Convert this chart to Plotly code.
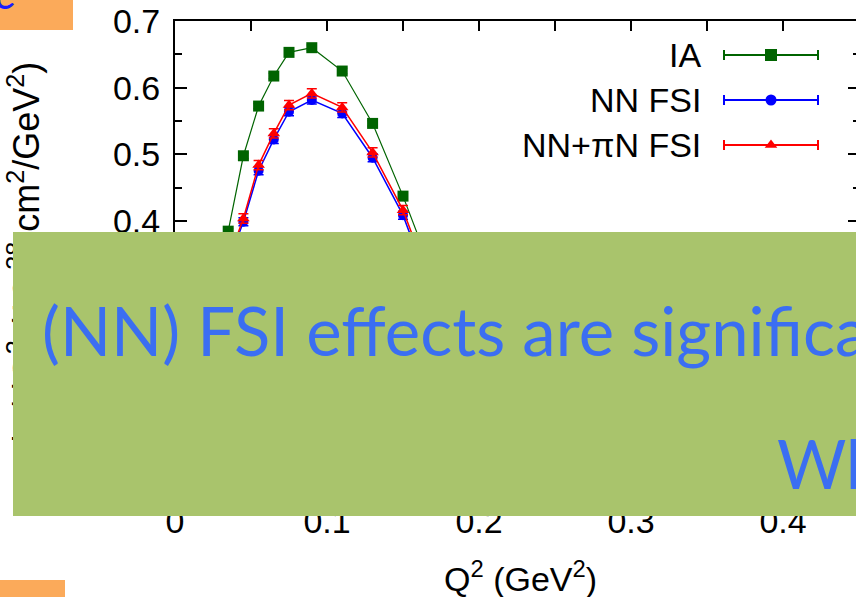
import plotly.graph_objects as go

# ---------------- data ----------------
q2 = [0.025, 0.035, 0.045, 0.055, 0.065, 0.075, 0.09, 0.11, 0.13, 0.15, 0.17, 0.19, 0.21, 0.25, 0.30]
ia = [0.200, 0.385, 0.498, 0.5725, 0.6175, 0.653, 0.660, 0.625, 0.5465, 0.4375, 0.318, 0.210, 0.130, 0.050, 0.010]
nn_fsi = [0.170, 0.338, 0.399, 0.4755, 0.5225, 0.564, 0.5815, 0.5615, 0.495, 0.409, 0.286, 0.190, 0.120, 0.045, 0.010]
nn_pin_fsi = [0.175, 0.342, 0.404, 0.484, 0.5315, 0.574, 0.5915, 0.5705, 0.503, 0.4165, 0.296, 0.200, 0.125, 0.048, 0.010]
ia_err = [0.004] * 15
nn_err = [0.006] * 15
pin_err = [0.007] * 15

series_names = ["IA", "NN FSI", "NN+\u03c0N FSI"]
series_colors = ["#006400", "#0000ff", "#ff0000"]
series_symbols = ["square", "circle", "triangle-up"]

xtick_vals = [0, 0.05, 0.1, 0.15, 0.2, 0.25, 0.3, 0.35, 0.4, 0.45]
xtick_text = ["0", "", "0.1", "", "0.2", "", "0.3", "", "0.4", ""]

W, H = 856, 597
FONT = "Liberation Sans"

fig = go.Figure()

for name, vals, err, col, sym, msize, lw in zip(
    series_names, [ia, nn_fsi, nn_pin_fsi], [ia_err, nn_err, pin_err],
    series_colors, series_symbols, [11, 10, 11], [1.2, 1.5, 1.5]):
    fig.add_trace(go.Scatter(
        x=q2, y=vals, mode="lines+markers", name=name,
        line=dict(color=col, width=lw),
        marker=dict(symbol=sym, size=msize, color=col),
        error_y=dict(type="data", array=err, color=col, thickness=1.5, width=5),
        showlegend=False, xaxis="x", yaxis="y",
    ))

# dummy trace to realise right-hand tick axis
fig.add_trace(go.Scatter(x=[None], y=[None], xaxis="x", yaxis="y2", showlegend=False, hoverinfo="skip"))

# custom gnuplot-like key (on a pixel-unit overlay axis)
key_rows = [55, 100, 145]
for name, col, sym, msize, yrow in zip(series_names, series_colors, series_symbols, [12, 11, 11], key_rows):
    fig.add_trace(go.Scatter(
        x=[771], y=[yrow], mode="markers", xaxis="x3", yaxis="y3",
        marker=dict(symbol=sym, size=msize, color=col),
        error_x=dict(type="data", array=[47], color=col, thickness=2, width=5),
        showlegend=False, hoverinfo="skip",
    ))

annotations = []
for name, yrow in zip(series_names, key_rows):
    annotations.append(dict(text=name, xref="paper", yref="paper", x=703 / W, y=1 - yrow / H,
                            xanchor="right", yanchor="middle", showarrow=False,
                            font=dict(family=FONT, size=34, color="black")))

# axis titles
annotations.append(dict(text="d\u03c3/dQ<sup>2</sup> (10<sup>-38</sup> cm<sup>2</sup>/GeV<sup>2</sup>)",
                        textangle=-90, xref="paper", yref="paper", x=23 / W, y=1 - 60 / H,
                        xanchor="center", yanchor="top", showarrow=False,
                        font=dict(family=FONT, size=36, color="black")))
annotations.append(dict(text="Q<sup>2</sup> (GeV<sup>2</sup>)", xref="paper", yref="paper",
                        x=520 / W, y=1 - 576 / H, xanchor="center", yanchor="middle", showarrow=False,
                        font=dict(family=FONT, size=34, color="black")))

# green overlay box (annotation so it covers everything below)
annotations.append(dict(text=" ", xref="paper", yref="paper", x=13 / W, y=1 - 232 / H,
                        xanchor="left", yanchor="top", showarrow=False,
                        width=W - 13, height=516 - 232, bgcolor="#a9c46c", borderpad=0, borderwidth=0,
                        font=dict(size=10)))
annotations.append(dict(text="(NN) FSI effects are significant", xref="paper", yref="paper",
                        x=41 / W, y=1 - 330 / H, xanchor="left", yanchor="middle", showarrow=False,
                        width=W - 41, align="left", borderpad=0,
                        font=dict(family="Lato", size=67, color="#3b6ef2")))
annotations.append(dict(text="What", xref="paper", yref="paper",
                        x=776 / W, y=1 - 463 / H, xanchor="left", yanchor="middle", showarrow=False,
                        width=W - 776, align="left", borderpad=0,
                        font=dict(family="Lato", size=67, color="#3b6ef2")))
# top-left slide fragment
annotations.append(dict(text="<i>e</i>", xref="paper", yref="paper", x=-6 / W, y=1 - 19 / H,
                        xanchor="left", yanchor="bottom", showarrow=False,
                        borderpad=0,
                        font=dict(family="Lato", size=44, color="#1a1aff")))

shapes = [
    dict(type="rect", xref="paper", yref="paper", x0=0, x1=73 / W, y0=1 - 30 / H, y1=1,
         fillcolor="#fbaa5a", line=dict(width=0), layer="below"),
    dict(type="rect", xref="paper", yref="paper", x0=0, x1=65 / W, y0=0, y1=1 - 580 / H,
         fillcolor="#fbaa5a", line=dict(width=0), layer="below"),
]

x_left = 175
fig.update_layout(
    width=W, height=H, margin=dict(l=0, r=0, t=0, b=0, autoexpand=False),
    paper_bgcolor="white", plot_bgcolor="rgba(0,0,0,0)",
    showlegend=False,
    xaxis=dict(domain=[x_left / W, 1], range=[0, (W - x_left) / 1520], showline=True, linewidth=2,
               linecolor="black", mirror="ticks", ticks="inside", ticklen=10, tickwidth=1.5,
               tickcolor="black", tickvals=xtick_vals, ticktext=xtick_text, showgrid=False,
               zeroline=False, tickfont=dict(family=FONT, size=34, color="black"),
               ticklabelstandoff=2),
    yaxis=dict(domain=[(H - 488) / H, (H - 21) / H], range=[0, 0.7], showline=True, linewidth=2,
               linecolor="black", mirror=False, ticks="inside", ticklen=12, tickwidth=1.5,
               tickcolor="black", dtick=0.1, tickformat=".1f", showgrid=False, zeroline=False,
               minor=dict(dtick=0.05, ticks="inside", ticklen=7, tickwidth=1.5, tickcolor="black"),
               tickfont=dict(family=FONT, size=34, color="black"), ticklabelstandoff=6),
    yaxis2=dict(overlaying="y", side="right", anchor="x", range=[0, 0.7], showline=False,
                ticks="inside", ticklen=8, tickwidth=1.5, tickcolor="black", dtick=0.1,
                showticklabels=False, showgrid=False, zeroline=False,
                minor=dict(dtick=0.05, ticks="inside", ticklen=3, tickwidth=1.5, tickcolor="black")),
    xaxis3=dict(domain=[0, 1], range=[0, W], visible=False, anchor="y3"),
    yaxis3=dict(domain=[0, 1], range=[H, 0], visible=False, anchor="x3"),
    annotations=annotations,
    shapes=shapes,
)

fig.write_html("out.html")
